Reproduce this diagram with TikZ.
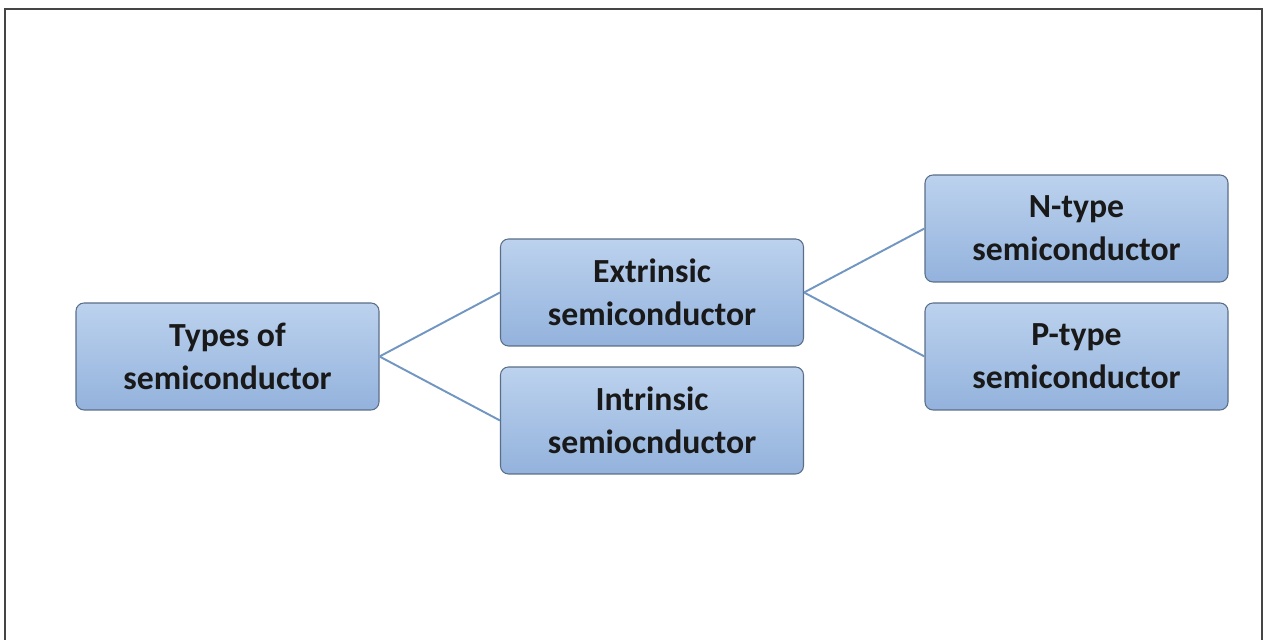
\documentclass[tikz,border=0pt]{standalone}
\usepackage{fontspec}
\setmainfont{Carlito}
\usetikzlibrary{trees,positioning}
\definecolor{boxtop}{HTML}{BCD2EE}
\definecolor{boxbot}{HTML}{93B2DC}
\definecolor{boxline}{HTML}{5B6E88}
\definecolor{linkblue}{HTML}{7196C2}
\definecolor{frameline}{HTML}{454545}
\tikzset{
  typebox/.style = {shape=rectangle, rounded corners=0.16cm,
                    draw=boxline, line width=0.6pt, align=center,
                    top color=boxtop, bottom color=boxbot,
                    minimum width=6.06cm, minimum height=2.14cm,
                    inner sep=0pt,
                    font=\fontsize{19.2}{24.5}\selectfont\bfseries,
                    text=black!90}
}
\begin{document}
\begin{tikzpicture}[grow'=right, level distance=8.49cm,
   level/.style={sibling distance=2.56cm},
   edge from parent/.style={draw=linkblue, line width=1.1pt},
   edge from parent path={(\tikzparentnode.east) -- (\tikzchildnode.west)}]
\useasboundingbox (0,0) rectangle (25.26,12.8);
% frame
\draw[frameline, line width=1.2pt] (0.1,0) -- (0.1,12.62) -- (25.24,12.62) -- (25.24,0);
\node [typebox] (types) at (4.55,5.67) {Types of\\semiconductor}
child {node [typebox] (extr) {Extrinsic\\semiconductor}
    child {node [typebox] (ntype) {N-type\\semiconductor}}
    child {node [typebox] (ptype) {P-type\\semiconductor}}
  }
child {node [typebox] (intr) {Intrinsic\\semiocnductor}};
\end{tikzpicture}
\end{document}
